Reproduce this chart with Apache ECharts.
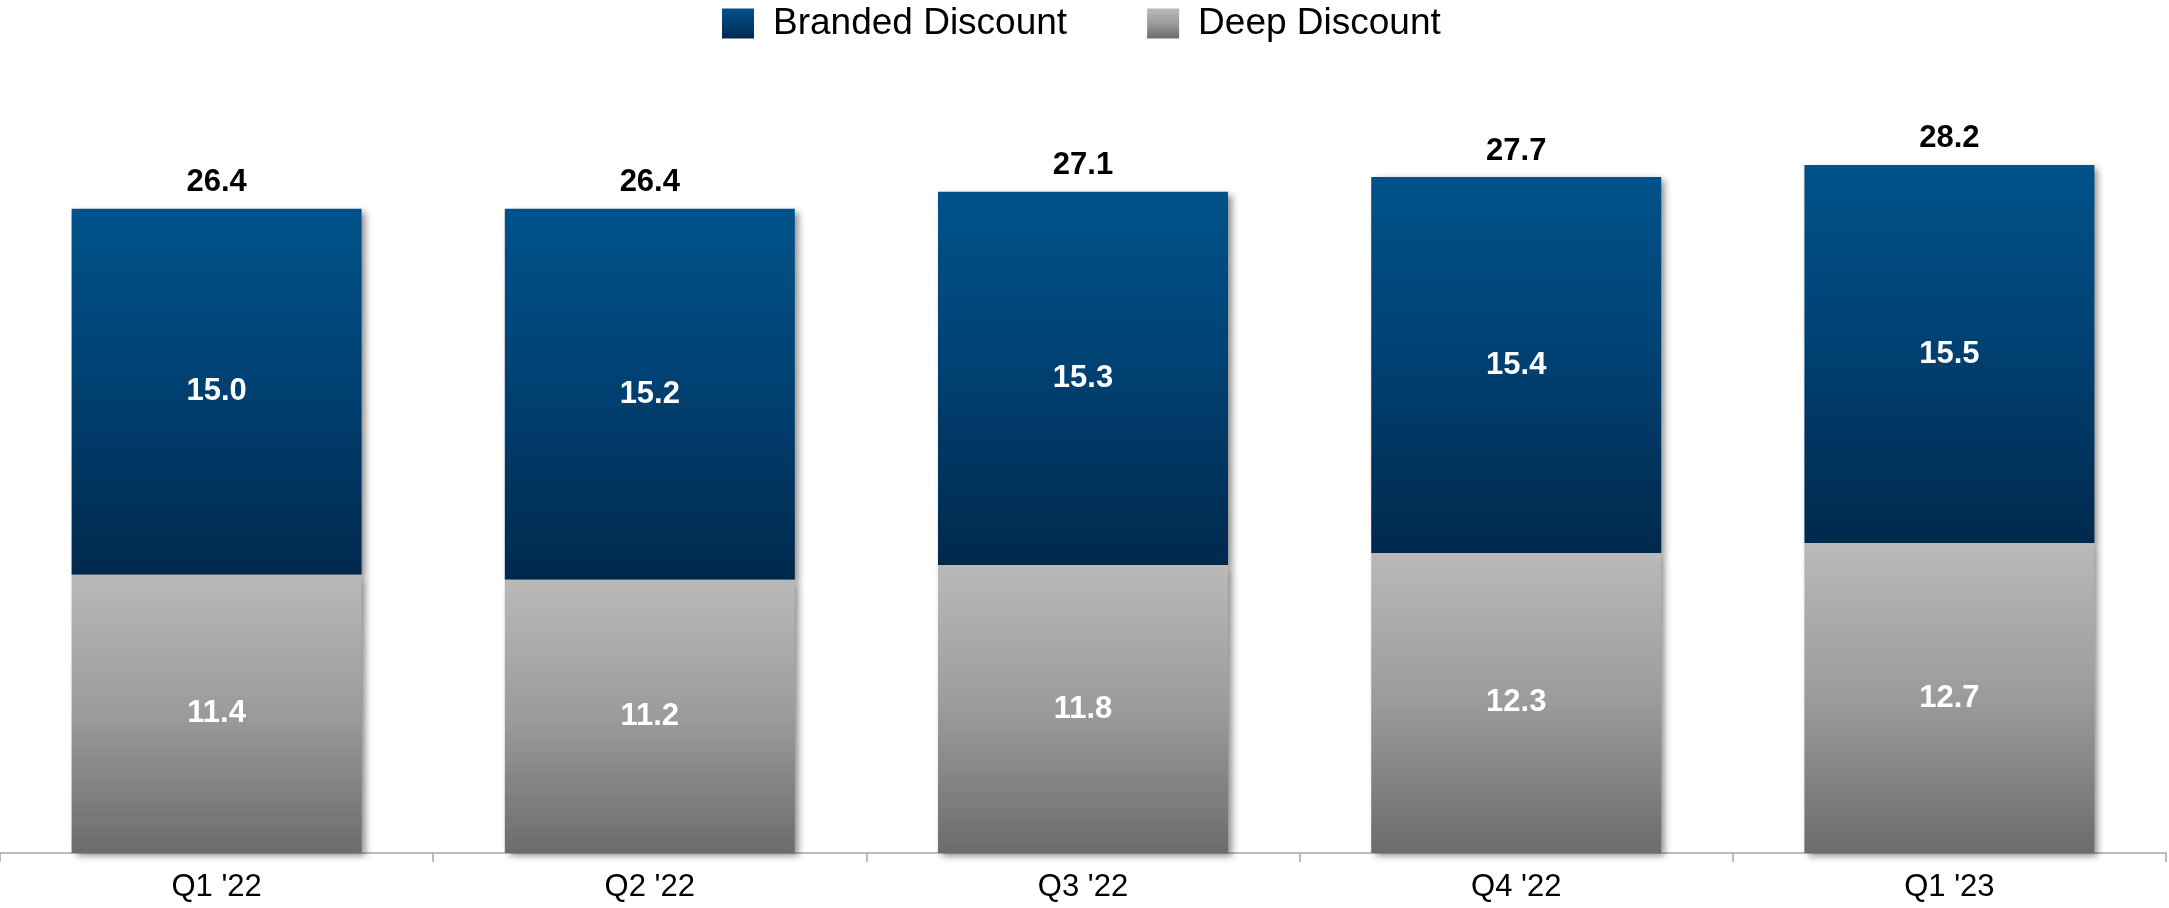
<!DOCTYPE html>
<html>
<head>
<meta charset="utf-8">
<title>Branded vs Deep Discount</title>
<script src="https://cdn.jsdelivr.net/npm/echarts@6/dist/echarts.min.js"></script>
<style>
  html, body { margin: 0; padding: 0; background: #ffffff; }
  #chart { width: 2169px; height: 908px; }
</style>
</head>
<body>
<div id="chart"></div>
<script>
// Quarterly values, stacked: deep discount at the bottom, branded on top
const quarters = ["Q1 '22", "Q2 '22", "Q3 '22", "Q4 '22", "Q1 '23"];
const deepDiscount = [11.4, 11.2, 11.8, 12.3, 12.7];
const brandedDiscount = [15.0, 15.2, 15.3, 15.4, 15.5];
const totals = [26.4, 26.4, 27.1, 27.7, 28.2];

const FONT = '"Liberation Sans", Arial, Helvetica, sans-serif';

const blueFill = {
  type: 'linear', x: 0, y: 0, x2: 0, y2: 1,
  colorStops: [
    { offset: 0, color: '#00528b' },
    { offset: 0.45, color: '#004274' },
    { offset: 1, color: '#00294d' }
  ]
};
const grayFill = {
  type: 'linear', x: 0, y: 0, x2: 0, y2: 1,
  colorStops: [
    { offset: 0, color: '#b9b9b9' },
    { offset: 0.5, color: '#9b9b9b' },
    { offset: 1, color: '#6c6c6c' }
  ]
};
const barShadow = {
  shadowColor: 'rgba(0,0,0,0.45)',
  shadowBlur: 7,
  shadowOffsetX: 4,
  shadowOffsetY: 3
};

const chart = echarts.init(document.getElementById('chart'), null, { renderer: 'canvas' });

chart.setOption({
  backgroundColor: '#ffffff',
  animation: false,
  legend: {
    data: ['Branded Discount', 'Deep Discount'],
    top: 0,
    left: 717,
    itemWidth: 32,
    itemHeight: 30,
    itemGap: 80,
    icon: 'rect',
    textStyle: {
      fontFamily: FONT,
      fontSize: 37,
      color: '#000000',
      padding: [0, 0, 0, 14]
    }
  },
  grid: {
    left: 0,
    right: 3,
    top: 121,
    bottom: 55,
    containLabel: false
  },
  xAxis: {
    type: 'category',
    data: quarters,
    boundaryGap: true,
    axisLine: { show: true, lineStyle: { color: '#a6a6a6', width: 1.5 } },
    axisTick: { show: true, length: 9, lineStyle: { color: '#a6a6a6', width: 1.5 } },
    axisLabel: {
      fontFamily: FONT,
      fontSize: 31,
      color: '#000000',
      margin: 19
    }
  },
  yAxis: {
    type: 'value',
    min: 0,
    max: 30,
    show: false,
    splitLine: { show: false }
  },
  series: [
    {
      name: 'Deep Discount',
      type: 'bar',
      stack: 'total',
      data: deepDiscount,
      barWidth: 290,
      z: 3,
      itemStyle: Object.assign({ color: grayFill }, barShadow),
      label: {
        show: true,
        position: 'inside',
        formatter: p => p.value.toFixed(1),
        fontFamily: FONT,
        fontSize: 31,
        fontWeight: 'bold',
        color: '#ffffff'
      }
    },
    {
      name: 'Branded Discount',
      type: 'bar',
      stack: 'total',
      data: brandedDiscount,
      barWidth: 290,
      z: 2,
      itemStyle: Object.assign({ color: blueFill }, barShadow),
      label: {
        show: true,
        position: 'inside',
        formatter: p => p.value.toFixed(1),
        fontFamily: FONT,
        fontSize: 31,
        fontWeight: 'bold',
        color: '#ffffff'
      }
    },
    {
      // invisible points carrying the stacked totals above each bar
      name: 'Total',
      type: 'scatter',
      data: totals,
      symbolSize: 1,
      itemStyle: { color: 'rgba(0,0,0,0)' },
      z: 5,
      silent: true,
      label: {
        show: true,
        position: 'top',
        distance: 10,
        formatter: p => p.value.toFixed(1),
        fontFamily: FONT,
        fontSize: 31,
        fontWeight: 'bold',
        color: '#000000',
        opacity: 1
      }
    }
  ]
});
</script>
</body>
</html>
